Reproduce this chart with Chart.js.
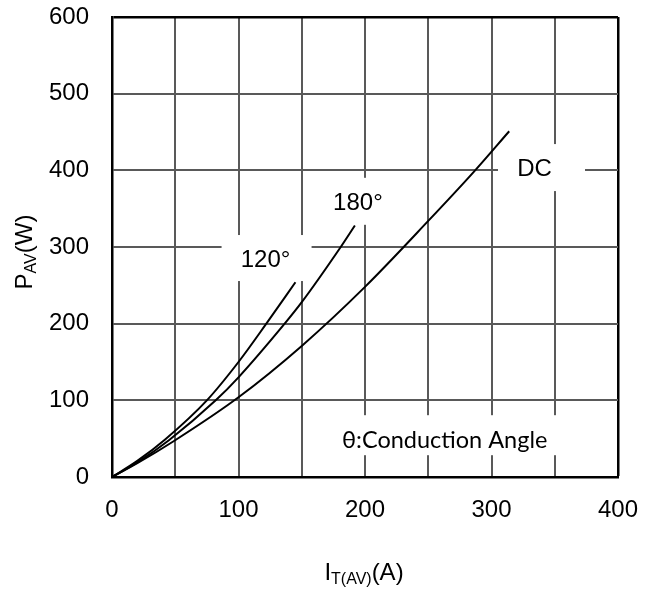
<!doctype html>
<html lang="en">
<head>
    <meta charset="utf-8">
    <title>PAV vs IT(AV)</title>
    <script src="https://cdn.jsdelivr.net/npm/chart.js"></script>
    <style>
        body { margin: 0; background: #fff; }
    </style>
</head>
<body>
<canvas id="pav-chart" width="655" height="589"></canvas>
<script>
    // AXIS TICKS
    const xTickLabels = [0, 100, 200, 300, 400];
    const yTickLabels = [0, 100, 200, 300, 400, 500, 600];

    // CURVES
    const x120 = [0, 20, 42, 75, 100, 122, 145];
    const y120 = [0, 21, 49, 100, 150, 200, 254];

    const x180 = [0, 20, 45, 82, 100, 136, 150, 180, 192];
    const y180 = [0, 19, 48, 100, 130, 199, 228, 298, 328];

    const xDC = [0, 20, 49, 100, 150, 200, 250, 286, 314];
    const yDC = [0, 18, 47, 104, 171, 248, 334, 398, 451];

    // LABEL TEXTS
    const labelTexts = ['120°', '180°', 'DC', 'θ:Conduction Angle'];
    const labelX = [121.4, 194.4, 334, 263];
    const labelY = [283, 357, 401, 48];

    const mainFont = "'Liberation Sans', Arial, sans-serif";

    // white boxes behind the labels, in pixels
    const labelStyle = [
        {w: 90, h: 46, dx: 1, dy: -2, font: '24px ' + mainFont},
        {w: 84, h: 47, dx: 0, dy: -2, font: '24px ' + mainFont},
        {w: 87, h: 47, dx: 7, dy: -2, font: '24px ' + mainFont},
        {w: 240, h: 40, dx: 0, dy: -5, font: "23.5px Lato, 'Open Sans', sans-serif"}
    ];

    function toPoints(xs, ys) {
        return xs.map((x, i) => ({x: x, y: ys[i]}))
    }

    function curve(xs, ys) {
        return {
            data: toPoints(xs, ys),
            showLine: true,
            borderColor: '#000',
            borderWidth: 2,
            pointRadius: 0,
            fill: false,
            cubicInterpolationMode: 'monotone'
        }
    }

    // draws text with a subscript part, centered on 0
    function drawParts(ctx, parts) {
        let total = 0;
        parts.forEach(p => {
            ctx.font = p.sub ? '16px ' + mainFont : '24px ' + mainFont;
            total += ctx.measureText(p.t).width;
        });
        let x = -total / 2;
        parts.forEach(p => {
            ctx.font = p.sub ? '16px ' + mainFont : '24px ' + mainFont;
            ctx.fillText(p.t, x, p.sub ? 4 : 0);
            x += ctx.measureText(p.t).width;
        });
    }

    const labelPlugin = {
        id: 'curveLabels',
        beforeDatasetsDraw(chart) {
            const ctx = chart.ctx;
            const xs = chart.scales.x, ys = chart.scales.y;
            ctx.save();
            labelTexts.forEach((text, i) => {
                const st = labelStyle[i];
                const px = xs.getPixelForValue(labelX[i]);
                const py = ys.getPixelForValue(labelY[i]);
                ctx.fillStyle = '#fff';
                ctx.fillRect(px - st.w / 2 + st.dx, py - st.h / 2 + st.dy, st.w, st.h);
                ctx.fillStyle = '#000';
                ctx.font = st.font;
                ctx.textAlign = 'center';
                ctx.textBaseline = 'middle';
                ctx.fillText(text, px, py);
            });
            ctx.restore();
        },
        afterDraw(chart) {
            const ctx = chart.ctx;
            ctx.save();
            ctx.fillStyle = '#000';
            ctx.textAlign = 'left';
            ctx.textBaseline = 'alphabetic';
            // Y title
            ctx.save();
            ctx.translate(32, 252);
            ctx.rotate(-Math.PI / 2);
            drawParts(ctx, [{t: 'P'}, {t: 'AV', sub: true}, {t: '(W)'}]);
            ctx.restore();
            // X title
            ctx.save();
            ctx.translate(364, 580);
            drawParts(ctx, [{t: 'I'}, {t: 'T(AV)', sub: true}, {t: '(A)'}]);
            ctx.restore();
            ctx.restore();
        }
    };

    function gridColor(max) {
        return c => (c.tick && c.tick.value === max) ? '#000' : '#595959'
    }

    function gridWidth(max) {
        return c => (c.tick && c.tick.value === max) ? 2.5 : 2
    }

    new Chart(document.getElementById('pav-chart').getContext('2d'), {
        type: 'scatter',
        plugins: [labelPlugin],
        data: {
            datasets: [curve(x120, y120), curve(x180, y180), curve(xDC, yDC)]
        },
        options: {
            responsive: false,
            animation: false,
            layout: {
                padding: {top: 17, right: 37, left: 0, bottom: 0}
            },
            plugins: {
                legend: {display: false},
                tooltip: {enabled: false}
            },
            scales: {
                x: {
                    type: 'linear',
                    min: 0,
                    max: 400,
                    afterFit: s => { s.height = 112 },
                    ticks: {
                        stepSize: 50,
                        autoSkip: false,
                        maxRotation: 0,
                        padding: 0,
                        color: '#000',
                        font: {family: mainFont, size: 24},
                        callback: v => xTickLabels.includes(v) ? v : ''
                    },
                    // invisible tick marks only push the labels away from the axis
                    grid: {
                        drawTicks: true, tickLength: 19, tickColor: 'rgba(0,0,0,0)',
                        color: gridColor(400), lineWidth: gridWidth(400)
                    },
                    border: {color: '#000', width: 2.5}
                },
                y: {
                    min: 0,
                    max: 600,
                    afterFit: s => { s.width = 112 },
                    ticks: {
                        stepSize: 100,
                        padding: 0,
                        color: '#000',
                        font: {family: mainFont, size: 24},
                        callback: v => yTickLabels.includes(v) ? v : ''
                    },
                    grid: {
                        drawTicks: true, tickLength: 23, tickColor: 'rgba(0,0,0,0)',
                        color: gridColor(600), lineWidth: gridWidth(600)
                    },
                    border: {color: '#000', width: 2.5}
                }
            }
        }
    });
</script>
</body>
</html>
